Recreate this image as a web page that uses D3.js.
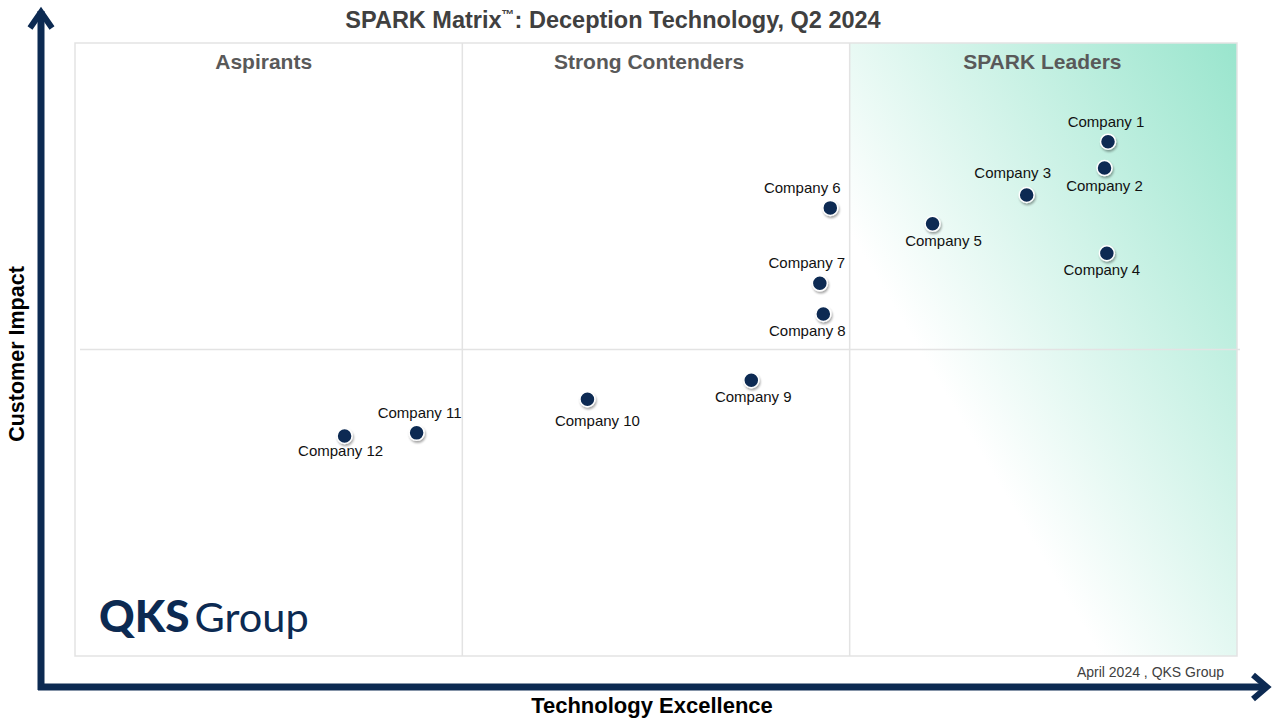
<!DOCTYPE html>
<html>
<head>
<meta charset="utf-8">
<script src="https://cdn.jsdelivr.net/npm/d3@7"></script>
<style>
  body { margin: 0; background: #fff; }
  svg { display: block; font-family: "Liberation Sans", Arial, sans-serif; }
</style>
</head>
<body>
<svg width="1280" height="720"></svg>
<script>
// data (0-100 on both axes)
const companies = ["Company 1", "Company 2", "Company 3", "Company 4", "Company 5", "Company 6",
  "Company 7", "Company 8", "Company 9", "Company 10", "Company 11", "Company 12"];
const techExcellence = [88.9, 88.6, 81.9, 88.8, 73.8, 65.0, 64.1, 64.4, 58.2, 44.1, 29.4, 23.2];
const customerImpact = [83.9, 79.6, 75.2, 65.7, 70.5, 73.1, 60.8, 55.8, 45.0, 41.9, 36.4, 35.9];
const quadrants = ["Aspirants", "Strong Contenders", "SPARK Leaders"];

// label placement (above / below the dot, small nudges in px)
const labelSide = ["above", "below", "above", "below", "below", "above", "above", "below", "below", "below", "above", "below"];
const labelNudgeX = [-2, 0, -14, -5, 11, -28, -13, -16, 2, 10, 3, -4];
const labelNudgeY = [0, 1, -2, 0, 0, 0, 0, 0, 0, 5, 0, -2];

const svg = d3.select("svg");
const box = {left: 75, right: 1237, top: 43, bottom: 656};
const navy = "#0c2a52";

const x = d3.scaleLinear().domain([0, 100]).range([box.left, box.right]);
const y = d3.scaleLinear().domain([0, 100]).range([box.bottom, box.top]);

const defs = svg.append("defs");
const grad = defs.append("linearGradient")
  .attr("id", "leaders")
  .attr("gradientUnits", "userSpaceOnUse")
  .attr("x1", box.right).attr("y1", box.top)
  .attr("x2", box.right - 0.86 * 430).attr("y2", box.top + 0.51 * 430);
grad.append("stop").attr("offset", 0).attr("stop-color", "#99e5cd");
grad.append("stop").attr("offset", 1).attr("stop-color", "#ffffff");

const shadow = defs.append("filter").attr("id", "shadow")
  .attr("x", "-50%").attr("y", "-50%").attr("width", "200%").attr("height", "200%");
shadow.append("feDropShadow")
  .attr("dx", 1).attr("dy", 2).attr("stdDeviation", 1.2)
  .attr("flood-color", "#000").attr("flood-opacity", 0.35);

// leaders shading
svg.append("rect")
  .attr("x", x(200 / 3)).attr("y", box.top)
  .attr("width", x(100) - x(200 / 3)).attr("height", box.bottom - box.top)
  .attr("fill", "url(#leaders)");

// plot frame and dividers
svg.append("rect")
  .attr("x", box.left).attr("y", box.top)
  .attr("width", box.right - box.left).attr("height", box.bottom - box.top)
  .attr("fill", "none").attr("stroke", "#e3e3e3").attr("stroke-width", 1.5);

svg.selectAll(".vdiv").data([100 / 3, 200 / 3]).join("line")
  .attr("x1", d => x(d)).attr("x2", d => x(d))
  .attr("y1", box.top).attr("y2", box.bottom)
  .attr("stroke", "#e3e3e3").attr("stroke-width", 1.5);

svg.append("line")
  .attr("x1", box.left + 5).attr("x2", box.right + 3)
  .attr("y1", y(50)).attr("y2", y(50))
  .attr("stroke", "#e3e3e3").attr("stroke-width", 1.5);

// quadrant titles
const quadShift = [-5, -7, -1];
svg.selectAll(".quad").data(quadrants).join("text")
  .attr("x", (d, i) => x((i + 0.5) * 100 / 3) + quadShift[i])
  .attr("y", 69)
  .attr("text-anchor", "middle")
  .attr("font-size", 21).attr("font-weight", "bold")
  .attr("fill", "#595959")
  .text(d => d);

// title
const title = svg.append("text")
  .attr("x", 613).attr("y", 28)
  .attr("text-anchor", "middle")
  .attr("font-size", 23.5).attr("font-weight", "bold")
  .attr("fill", "#404040");
title.append("tspan").text("SPARK Matrix");
title.append("tspan").attr("font-size", 13).attr("dy", -9).text("™");
title.append("tspan").attr("dy", 9).text(": Deception Technology, Q2 2024");

// axes arrows
const arrows = svg.append("g").attr("fill", "none").attr("stroke", navy);
arrows.append("path").attr("d", "M41,690 V11").attr("stroke-width", 7);
arrows.append("path").attr("d", "M30,28 L41,12 L52,28").attr("stroke-width", 6).attr("stroke-linejoin", "miter");
arrows.append("path").attr("d", "M38,687 H1266").attr("stroke-width", 7);
arrows.append("path").attr("d", "M1253,675 L1267,687 L1253,699").attr("stroke-width", 6).attr("stroke-linejoin", "miter");

svg.append("text")
  .attr("transform", "translate(24,354) rotate(-90)")
  .attr("text-anchor", "middle")
  .attr("font-size", 21.5).attr("font-weight", "bold")
  .attr("fill", "#000")
  .text("Customer Impact");

svg.append("text")
  .attr("x", 652).attr("y", 713)
  .attr("text-anchor", "middle")
  .attr("font-size", 22).attr("font-weight", "bold")
  .attr("fill", "#000")
  .text("Technology Excellence");

svg.append("text")
  .attr("x", 1224).attr("y", 677)
  .attr("text-anchor", "end")
  .attr("font-size", 14)
  .attr("fill", "#404040")
  .text("April 2024 , QKS Group");

// logo
const logo = svg.append("text")
  .attr("x", 99).attr("y", 632)
  .attr("font-family", "Lato, 'Noto Sans', sans-serif")
  .attr("fill", navy);
logo.append("tspan").attr("font-size", 44).attr("font-weight", 900).text("QKS");
logo.append("tspan").attr("dx", 5).attr("font-size", 41.5).attr("font-weight", 400).text("Group");

// companies
const pts = companies.map((c, i) => ({name: c, tx: techExcellence[i], ci: customerImpact[i],
  side: labelSide[i], nx: labelNudgeX[i], ny: labelNudgeY[i]}));

svg.selectAll(".dot").data(pts).join("circle")
  .attr("cx", d => x(d.tx)).attr("cy", d => y(d.ci))
  .attr("r", 7.5)
  .attr("fill", navy)
  .attr("stroke", "#fff").attr("stroke-width", 1.5)
  .attr("filter", "url(#shadow)");

svg.selectAll(".lbl").data(pts).join("text")
  .attr("x", d => x(d.tx) + d.nx)
  .attr("y", d => y(d.ci) + (d.side === "above" ? -15 : 22) + d.ny)
  .attr("text-anchor", "middle")
  .attr("font-size", 15)
  .attr("fill", "#111")
  .text(d => d.name);
</script>
</body>
</html>
